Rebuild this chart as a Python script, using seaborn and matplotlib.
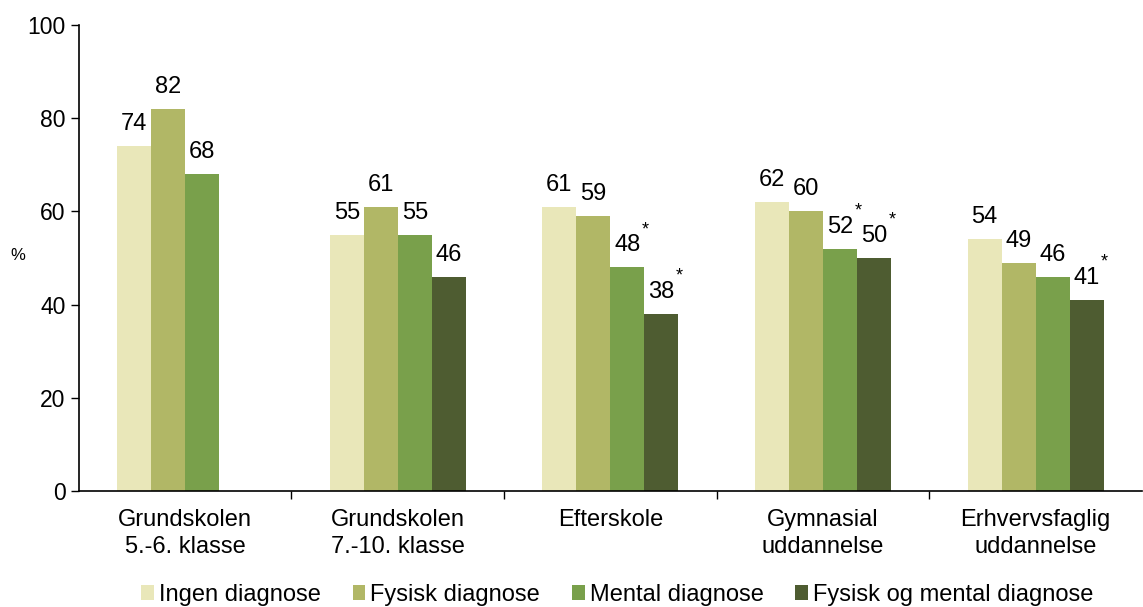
import pandas as pd
import numpy as np
import matplotlib.pyplot as plt
import seaborn as sns

# ---- Data ----
categories = ['Grundskolen\n5.-6. klasse', 'Grundskolen\n7.-10. klasse', 'Efterskole',
              'Gymnasial\nuddannelse', 'Erhvervsfaglig\nuddannelse']
groups = ['Ingen diagnose', 'Fysisk diagnose', 'Mental diagnose', 'Fysisk og mental diagnose']
ingen = [74, 55, 61, 62, 54]
fysisk = [82, 61, 59, 60, 49]
mental = [68, 55, 48, 52, 46]
begge = [np.nan, 46, 38, 50, 41]
# significance marks (*)
star_mental = [False, False, True, True, False]
star_begge = [False, False, True, True, True]

colors = ['#E9E7B9', '#B1B766', '#79A04B', '#4E5C31']

rows = []
for g, vals, stars in zip(groups, [ingen, fysisk, mental, begge],
                          [[False] * 5, [False] * 5, star_mental, star_begge]):
    for c, v, s in zip(categories, vals, stars):
        if not np.isnan(v):
            rows.append({'Kategori': c, 'Gruppe': g, 'Andel': v, 'Stjerne': s})
df = pd.DataFrame(rows)

# ---- Plot ----
sns.set_style('white')
plt.rcParams['font.family'] = ['Liberation Sans', 'DejaVu Sans']
plt.rcParams['text.color'] = 'black'
plt.rcParams['xtick.color'] = 'black'
plt.rcParams['ytick.color'] = 'black'
plt.rcParams['axes.labelcolor'] = 'black'

fig = plt.figure(figsize=(11.43, 6.07), dpi=100)
ax = fig.add_axes([0.069, 0.191, 0.93, 0.768])

sns.barplot(data=df, x='Kategori', y='Andel', hue='Gruppe', order=categories,
            hue_order=groups, palette=colors, width=0.64, gap=0, linewidth=0,
            saturation=1, errorbar=None, ax=ax)

# value labels + asterisks
for cont, g in zip(ax.containers, groups):
    sub = df[df['Gruppe'] == g].set_index('Kategori').reindex(categories).dropna()
    for bar, (_, r) in zip(cont, sub.iterrows()):
        x = bar.get_x() + bar.get_width() / 2
        h = bar.get_height()
        ax.annotate(f"{int(r['Andel'])}", (x, h), xytext=(0, 8),
                    textcoords='offset points', ha='center', va='bottom', fontsize=17)
        if r['Stjerne']:
            ax.annotate('*', (x, h), xytext=(13, 21), textcoords='offset points',
                        ha='center', va='bottom', fontsize=13)

ax.set_ylim(0, 100)
ax.set_xlim(-0.5, len(categories) - 0.5)
ax.set_yticks([0, 20, 40, 60, 80, 100])
ax.set_xlabel('')
ax.set_ylabel('%', rotation=0, fontsize=12)
ax.yaxis.set_label_coords(-0.057, 0.49)

ax.tick_params(axis='y', labelsize=16.5, length=6, width=1, direction='out', left=True)
ax.tick_params(axis='x', which='major', labelsize=17, length=0, pad=13)
ax.set_xticks(np.arange(0.5, len(categories) - 1), minor=True)
ax.tick_params(axis='x', which='minor', length=6, width=1, direction='out', bottom=True)
for lab in ax.get_xticklabels():
    lab.set_linespacing(1.3)

for side in ['top', 'right']:
    ax.spines[side].set_visible(False)
for side in ['left', 'bottom']:
    ax.spines[side].set_color('black')
    ax.spines[side].set_linewidth(1.2)

handles, labels = ax.get_legend_handles_labels()
ax.get_legend().remove()
fig.legend(handles, labels, loc='lower center', bbox_to_anchor=(0.54, -0.033), ncol=4,
           frameon=False, fontsize=17, handlelength=0.55, handleheight=0.55,
           handletextpad=0.2, columnspacing=1.35)

plt.savefig('out.png', dpi=100)
